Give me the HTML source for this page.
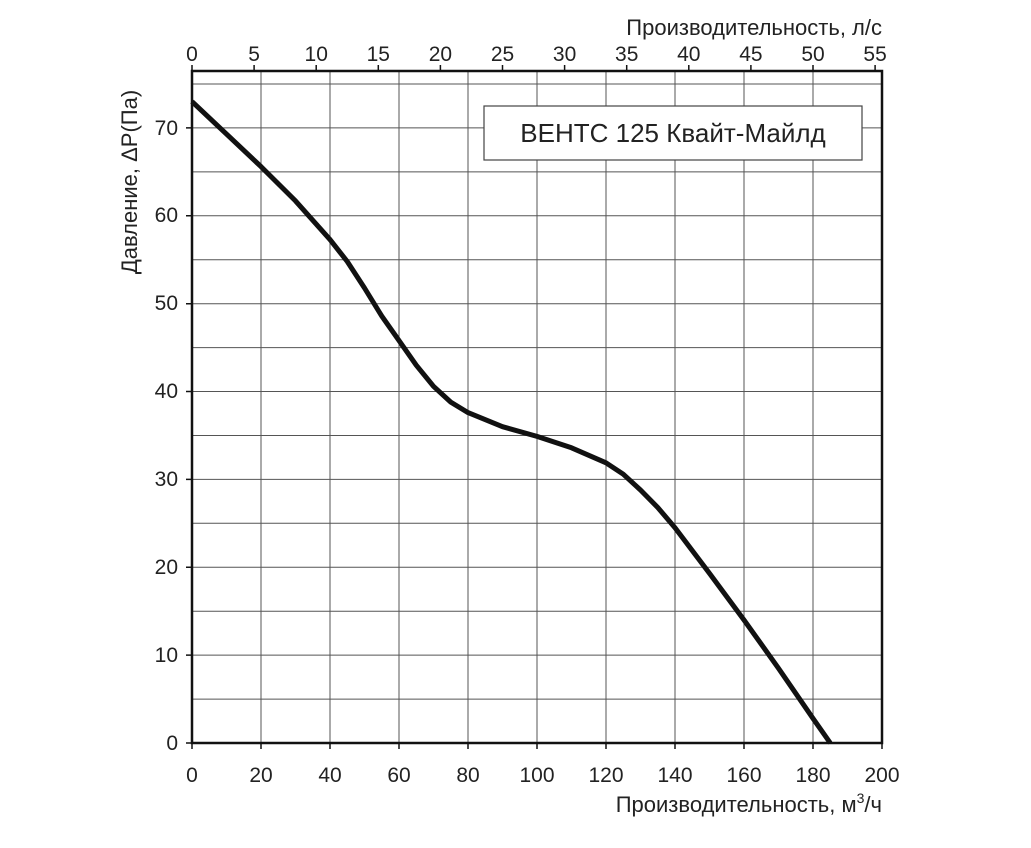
<!DOCTYPE html>
<html><head><meta charset="utf-8"><style>body{margin:0;background:#fff}</style></head><body>
<svg width="1031" height="843" xmlns="http://www.w3.org/2000/svg" font-family="Liberation Sans, sans-serif" fill="#222">
<g stroke="#555" stroke-width="1">
<path d="M261 71V743M330 71V743M399 71V743M468 71V743M537 71V743M606 71V743M675 71V743M744 71V743M813 71V743"/>
<path d="M192 699.1H882M192 655.1H882M192 611.2H882M192 567.3H882M192 523.3H882M192 479.4H882M192 435.5H882M192 391.5H882M192 347.6H882M192 303.7H882M192 259.7H882M192 215.8H882M192 171.9H882M192 127.9H882M192 84H882"/>
</g>
<rect x="192" y="71" width="690" height="672" fill="none" stroke="#111" stroke-width="2.5"/>
<g stroke="#111" stroke-width="1.5">
<path d="M192 743v6M261 743v6M330 743v6M399 743v6M468 743v6M537 743v6M606 743v6M675 743v6M744 743v6M813 743v6M882 743v6"/>
<path d="M192 71v-6M254.1 71v-6M316.2 71v-6M378.3 71v-6M440.4 71v-6M502.5 71v-6M564.6 71v-6M626.7 71v-6M688.8 71v-6M750.9 71v-6M813 71v-6M875.1 71v-6"/>
<path d="M186 743h6M186 655.1h6M186 567.3h6M186 479.4h6M186 391.5h6M186 303.7h6M186 215.8h6M186 127.9h6"/>
</g>
<g font-size="21" text-anchor="middle">
<text x="192" y="782">0</text><text x="261" y="782">20</text><text x="330" y="782">40</text><text x="399" y="782">60</text><text x="468" y="782">80</text><text x="537" y="782">100</text><text x="606" y="782">120</text><text x="675" y="782">140</text><text x="744" y="782">160</text><text x="813" y="782">180</text><text x="882" y="782">200</text>
<text x="192" y="61">0</text><text x="254.1" y="61">5</text><text x="316.2" y="61">10</text><text x="378.3" y="61">15</text><text x="440.4" y="61">20</text><text x="502.5" y="61">25</text><text x="564.6" y="61">30</text><text x="626.7" y="61">35</text><text x="688.8" y="61">40</text><text x="750.9" y="61">45</text><text x="813" y="61">50</text><text x="875.1" y="61">55</text>
</g>
<g font-size="21" text-anchor="end">
<text x="178" y="750">0</text><text x="178" y="662">10</text><text x="178" y="574">20</text><text x="178" y="486">30</text><text x="178" y="398">40</text><text x="178" y="310">50</text><text x="178" y="222">60</text><text x="178" y="135">70</text>
</g>
<text x="882" y="812" font-size="22" text-anchor="end">Производительность, м<tspan font-size="14" dy="-9">3</tspan><tspan dy="9">/ч</tspan></text>
<text x="882" y="35" font-size="22" text-anchor="end">Производительность, л/с</text>
<text transform="translate(137,182) rotate(-90)" font-size="22" text-anchor="middle">Давление, ΔP(Па)</text>
<rect x="484" y="106" width="378" height="54" fill="#fff" stroke="#444" stroke-width="1.2"/>
<text x="673" y="142" font-size="26" text-anchor="middle">ВЕНТС 125 Квайт-Майлд</text>
<polyline points="192,101.6 226.5,134.1 261,166.6 295.5,200.9 330,239.6 347.25,261.5 364.5,288 381.75,316.1 399,340.6 416.25,365.2 433.5,386.3 450.75,402.1 468,412.6 502.5,426.7 537,436.4 571.5,447.8 606,462.8 623.25,474.2 640.5,490 657.75,507.5 675,527.7 709.5,573.4 744,620 778.5,668.3 813,718.4 830.25,743" fill="none" stroke="#111" stroke-width="5" stroke-linejoin="round"/>
</svg>
</body></html>
